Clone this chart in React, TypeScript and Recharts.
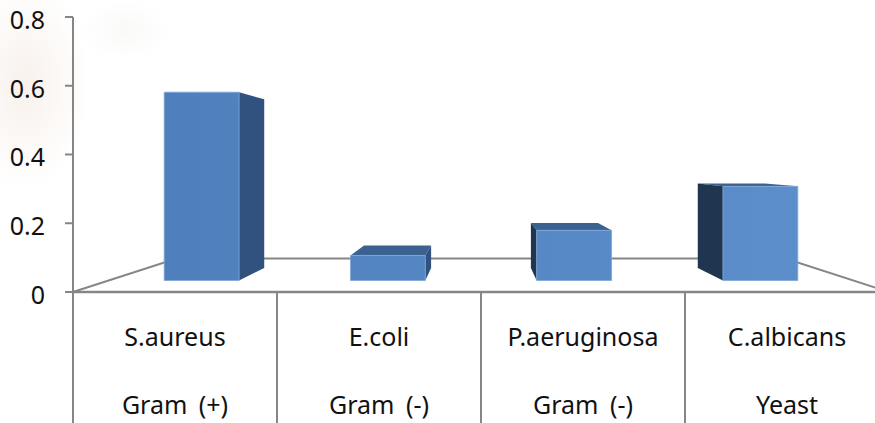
import { BarChart, Bar, XAxis, YAxis, Customized } from "recharts";

const species = ["S.aureus", "E.coli", "P.aeruginosa", "C.albicans"];
const groups = ["Gram (+)", "Gram (-)", "Gram (-)", "Yeast"];
const values = [0.6, 0.08, 0.16, 0.3];
const yTicks = [0, 0.2, 0.4, 0.6, 0.8];

const data = species.map((name, i) => ({ name, group: groups[i], value: values[i] }));

const C = {
  axis: "#868686",
  text: "#111",
  right: "#31527E",
  left: "#1F3550",
  top: "#3B6190",
};
const FONT = "'Noto Sans', sans-serif";

// fake 3D: everything is scaled towards one vanishing point
const VP_X = 481;
const VP_Y = 160;
const FRONT = 0.913;
const BACK = 0.818;
const FLOOR_BACK = 0.746;
const BAND = 204;
const BASELINE = 292;

const project = (x: number, y: number, s: number) => [VP_X + (x - VP_X) * s, VP_Y + (y - VP_Y) * s];
const pts = (list: number[][]) => list.map((p) => p.join(",")).join(" ");

const Box3D = (props: any) => {
  const { x, y, width, height } = props;
  const x0 = x;
  const x1 = x + width;
  const y1 = y + height;
  const fTL = project(x0, y, FRONT);
  const fTR = project(x1, y, FRONT);
  const fBR = project(x1, y1, FRONT);
  const fBL = project(x0, y1, FRONT);
  const bTL = project(x0, y, BACK);
  const bTR = project(x1, y, BACK);
  const bBR = project(x1, y1, BACK);
  const bBL = project(x0, y1, BACK);
  return (
    <g>
      {fTL[1] > VP_Y && <polygon points={pts([fTL, fTR, bTR, bTL])} fill={C.top} />}
      {x1 < VP_X && <polygon points={pts([fTR, bTR, bBR, fBR])} fill={C.right} />}
      {x0 > VP_X && <polygon points={pts([fTL, bTL, bBL, fBL])} fill={C.left} />}
      <polygon points={pts([fTL, fTR, fBR, fBL])} fill="url(#frontFill)" stroke="#7FA6D6" strokeWidth={0.8} />
    </g>
  );
};

// floor behind the bars
const Floor = (props: any) => {
  const { offset } = props;
  const left = offset?.left ?? 73;
  const bottom = (offset?.top ?? 17) + (offset?.height ?? 275);
  const right = left + (offset?.width ?? 816);
  const a = project(left, bottom, FLOOR_BACK);
  const b = project(right, bottom, FLOOR_BACK);
  return (
    <g fill="none" stroke={C.axis} strokeWidth={2}>
      <polyline points={pts([[left, bottom], a, b, [right, bottom]])} />
      <line x1={left} x2={right} y1={bottom} y2={bottom} strokeWidth={2.5} />
    </g>
  );
};

const CategoryTick = (props: any) => {
  const { x, index } = props;
  const row = data[index];
  return (
    <g>
      <line x1={x - BAND / 2} x2={x - BAND / 2} y1={BASELINE} y2={423} stroke={C.axis} strokeWidth={2} />
      <text x={x} y={346} textAnchor="middle" fontSize={25} fontFamily={FONT} fill={C.text}>{row?.name}</text>
      <text x={x} y={414} textAnchor="middle" fontSize={25} wordSpacing={5} fontFamily={FONT} fill={C.text}>{row?.group}</text>
    </g>
  );
};

export default function App() {
  return (
    <div style={{ position: "fixed", left: 0, top: 0, width: 875, height: 423, overflow: "hidden", background: "#fff" }}>
      {/* faint washed-out picture behind the plot */}
      <div style={{ position: "absolute", left: -40, top: -20, width: 130, height: 210, borderRadius: "50%", background: "radial-gradient(closest-side, #F8F1EC, #FFFFFF)" }} />
      <div style={{ position: "absolute", left: 80, top: 0, width: 90, height: 60, borderRadius: "50%", background: "radial-gradient(closest-side, #FAF9F8, #FFFFFF)" }} />
      <BarChart
        width={900}
        height={423}
        data={data}
        margin={{ top: 17, right: 11, bottom: 0, left: 0 }}
        style={{ position: "absolute", left: 0, top: 0 }}
      >
        <defs>
          <linearGradient id="frontFill" gradientUnits="userSpaceOnUse" x1={165} y1={0} x2={798} y2={0}>
            <stop offset="0%" stopColor="#4F80BD" />
            <stop offset="100%" stopColor="#5C8ECC" />
          </linearGradient>
        </defs>
        <Customized component={Floor} />
        <XAxis
          dataKey="name"
          height={131}
          interval={0}
          tickLine={false}
          axisLine={{ stroke: C.axis, strokeWidth: 2 }}
          tick={<CategoryTick />}
        />
        <YAxis
          width={73}
          domain={[0, 0.8]}
          ticks={yTicks}
          tickSize={8}
          tickMargin={20}
          tickLine={{ stroke: C.axis, strokeWidth: 2 }}
          axisLine={{ stroke: C.axis, strokeWidth: 2 }}
          tick={{ fontSize: 25, fontFamily: FONT, fill: C.text, dy: 3 }}
        />
        <Bar dataKey="value" barSize={82} shape={<Box3D />} isAnimationActive={false} />
      </BarChart>
    </div>
  );
}
